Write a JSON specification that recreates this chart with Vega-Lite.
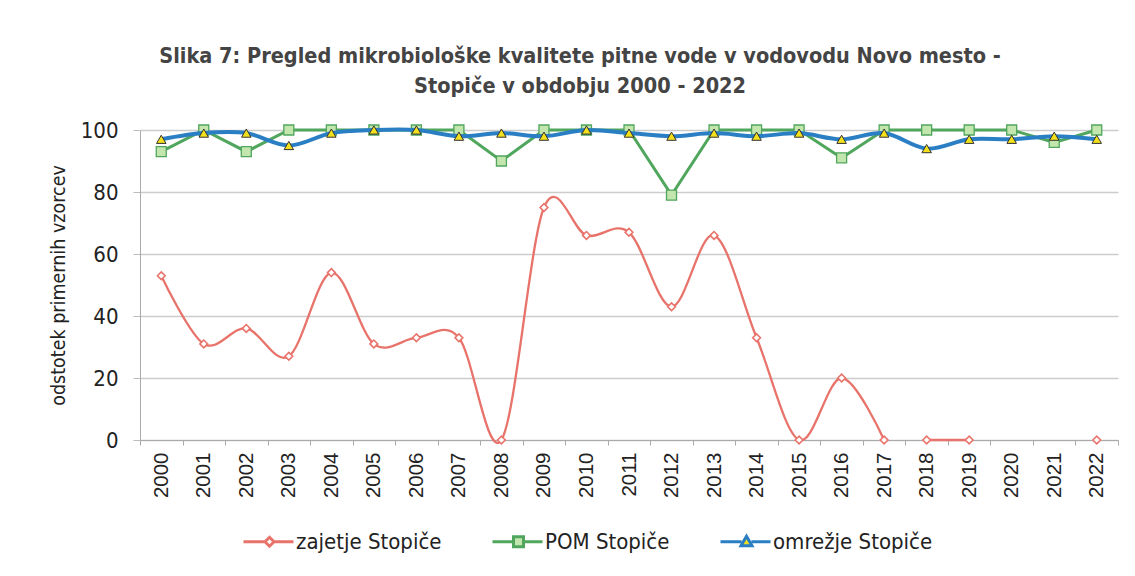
{
  "$schema": "https://vega.github.io/schema/vega-lite/v6.json",
  "width": 978,
  "height": 310,
  "autosize": "none",
  "padding": {"left": 140, "top": 130, "right": 17, "bottom": 136},
  "background": "white",
  "title": {
    "text": ["Slika 7: Pregled mikrobiološke kvalitete pitne vode v vodovodu Novo mesto -", "Stopiče v obdobju 2000 - 2022"],
    "font": "'DejaVu Sans Condensed', 'Liberation Sans', sans-serif",
    "fontSize": 21.5,
    "fontWeight": "bold",
    "color": "#444444",
    "anchor": "middle",
    "dx": -49,
    "offset": 22,
    "lineHeight": 30
  },
  "data": {
    "values": [
      {"leto": "2000", "serija": "zajetje Stopiče", "vrednost": 53, "odsek": 1},
      {"leto": "2001", "serija": "zajetje Stopiče", "vrednost": 31, "odsek": 1},
      {"leto": "2002", "serija": "zajetje Stopiče", "vrednost": 36, "odsek": 1},
      {"leto": "2003", "serija": "zajetje Stopiče", "vrednost": 27, "odsek": 1},
      {"leto": "2004", "serija": "zajetje Stopiče", "vrednost": 54, "odsek": 1},
      {"leto": "2005", "serija": "zajetje Stopiče", "vrednost": 31, "odsek": 1},
      {"leto": "2006", "serija": "zajetje Stopiče", "vrednost": 33, "odsek": 1},
      {"leto": "2007", "serija": "zajetje Stopiče", "vrednost": 33, "odsek": 1},
      {"leto": "2008", "serija": "zajetje Stopiče", "vrednost": 0, "odsek": 1},
      {"leto": "2009", "serija": "zajetje Stopiče", "vrednost": 75, "odsek": 1},
      {"leto": "2010", "serija": "zajetje Stopiče", "vrednost": 66, "odsek": 1},
      {"leto": "2011", "serija": "zajetje Stopiče", "vrednost": 67, "odsek": 1},
      {"leto": "2012", "serija": "zajetje Stopiče", "vrednost": 43, "odsek": 1},
      {"leto": "2013", "serija": "zajetje Stopiče", "vrednost": 66, "odsek": 1},
      {"leto": "2014", "serija": "zajetje Stopiče", "vrednost": 33, "odsek": 1},
      {"leto": "2015", "serija": "zajetje Stopiče", "vrednost": 0, "odsek": 1},
      {"leto": "2016", "serija": "zajetje Stopiče", "vrednost": 20, "odsek": 1},
      {"leto": "2017", "serija": "zajetje Stopiče", "vrednost": 0, "odsek": 1},
      {"leto": "2018", "serija": "zajetje Stopiče", "vrednost": 0, "odsek": 2},
      {"leto": "2019", "serija": "zajetje Stopiče", "vrednost": 0, "odsek": 2},
      {"leto": "2022", "serija": "zajetje Stopiče", "vrednost": 0, "odsek": 3},
      {"leto": "2000", "serija": "POM Stopiče", "vrednost": 93, "odsek": 1},
      {"leto": "2001", "serija": "POM Stopiče", "vrednost": 100, "odsek": 1},
      {"leto": "2002", "serija": "POM Stopiče", "vrednost": 93, "odsek": 1},
      {"leto": "2003", "serija": "POM Stopiče", "vrednost": 100, "odsek": 1},
      {"leto": "2004", "serija": "POM Stopiče", "vrednost": 100, "odsek": 1},
      {"leto": "2005", "serija": "POM Stopiče", "vrednost": 100, "odsek": 1},
      {"leto": "2006", "serija": "POM Stopiče", "vrednost": 100, "odsek": 1},
      {"leto": "2007", "serija": "POM Stopiče", "vrednost": 100, "odsek": 1},
      {"leto": "2008", "serija": "POM Stopiče", "vrednost": 90, "odsek": 1},
      {"leto": "2009", "serija": "POM Stopiče", "vrednost": 100, "odsek": 1},
      {"leto": "2010", "serija": "POM Stopiče", "vrednost": 100, "odsek": 1},
      {"leto": "2011", "serija": "POM Stopiče", "vrednost": 100, "odsek": 1},
      {"leto": "2012", "serija": "POM Stopiče", "vrednost": 79, "odsek": 1},
      {"leto": "2013", "serija": "POM Stopiče", "vrednost": 100, "odsek": 1},
      {"leto": "2014", "serija": "POM Stopiče", "vrednost": 100, "odsek": 1},
      {"leto": "2015", "serija": "POM Stopiče", "vrednost": 100, "odsek": 1},
      {"leto": "2016", "serija": "POM Stopiče", "vrednost": 91, "odsek": 1},
      {"leto": "2017", "serija": "POM Stopiče", "vrednost": 100, "odsek": 1},
      {"leto": "2018", "serija": "POM Stopiče", "vrednost": 100, "odsek": 1},
      {"leto": "2019", "serija": "POM Stopiče", "vrednost": 100, "odsek": 1},
      {"leto": "2020", "serija": "POM Stopiče", "vrednost": 100, "odsek": 1},
      {"leto": "2021", "serija": "POM Stopiče", "vrednost": 96, "odsek": 1},
      {"leto": "2022", "serija": "POM Stopiče", "vrednost": 100, "odsek": 1},
      {"leto": "2000", "serija": "omrežje Stopiče", "vrednost": 97, "odsek": 1},
      {"leto": "2001", "serija": "omrežje Stopiče", "vrednost": 99, "odsek": 1},
      {"leto": "2002", "serija": "omrežje Stopiče", "vrednost": 99, "odsek": 1},
      {"leto": "2003", "serija": "omrežje Stopiče", "vrednost": 95, "odsek": 1},
      {"leto": "2004", "serija": "omrežje Stopiče", "vrednost": 99, "odsek": 1},
      {"leto": "2005", "serija": "omrežje Stopiče", "vrednost": 100, "odsek": 1},
      {"leto": "2006", "serija": "omrežje Stopiče", "vrednost": 100, "odsek": 1},
      {"leto": "2007", "serija": "omrežje Stopiče", "vrednost": 98, "odsek": 1},
      {"leto": "2008", "serija": "omrežje Stopiče", "vrednost": 99, "odsek": 1},
      {"leto": "2009", "serija": "omrežje Stopiče", "vrednost": 98, "odsek": 1},
      {"leto": "2010", "serija": "omrežje Stopiče", "vrednost": 100, "odsek": 1},
      {"leto": "2011", "serija": "omrežje Stopiče", "vrednost": 99, "odsek": 1},
      {"leto": "2012", "serija": "omrežje Stopiče", "vrednost": 98, "odsek": 1},
      {"leto": "2013", "serija": "omrežje Stopiče", "vrednost": 99, "odsek": 1},
      {"leto": "2014", "serija": "omrežje Stopiče", "vrednost": 98, "odsek": 1},
      {"leto": "2015", "serija": "omrežje Stopiče", "vrednost": 99, "odsek": 1},
      {"leto": "2016", "serija": "omrežje Stopiče", "vrednost": 97, "odsek": 1},
      {"leto": "2017", "serija": "omrežje Stopiče", "vrednost": 99, "odsek": 1},
      {"leto": "2018", "serija": "omrežje Stopiče", "vrednost": 94, "odsek": 1},
      {"leto": "2019", "serija": "omrežje Stopiče", "vrednost": 97, "odsek": 1},
      {"leto": "2020", "serija": "omrežje Stopiče", "vrednost": 97, "odsek": 1},
      {"leto": "2021", "serija": "omrežje Stopiče", "vrednost": 98, "odsek": 1},
      {"leto": "2022", "serija": "omrežje Stopiče", "vrednost": 97, "odsek": 1}
    ]
  },
  "encoding": {
    "x": {
      "field": "leto",
      "type": "ordinal",
      "bandPosition": 0.5,
      "scale": {"type": "band", "paddingInner": 0, "paddingOuter": 0},
      "axis": {
        "title": null,
        "labelAngle": -90,
        "labelFont": "Liberation Sans",
        "labelFontSize": 20.5,
        "labelColor": "#222222",
        "labelPadding": 7,
        "tickBand": "extent",
        "tickSize": 5,
        "tickColor": "#aaaaaa",
        "domainColor": "#aaaaaa",
        "grid": false
      }
    },
    "y": {
      "field": "vrednost",
      "type": "quantitative",
      "scale": {"domain": [0, 100], "nice": false},
      "axis": {
        "title": "odstotek primernih vzorcev",
        "titleFont": "'DejaVu Sans Condensed', 'Liberation Sans', sans-serif",
        "titleFontSize": 19.5,
        "titleFontWeight": "normal",
        "titleColor": "#222222",
        "titlePadding": 12,
        "values": [0, 20, 40, 60, 80, 100],
        "labelFont": "'DejaVu Sans Condensed', 'Liberation Sans', sans-serif",
        "labelFontSize": 22,
        "labelColor": "#222222",
        "labelPadding": 15,
        "tickSize": 7,
        "tickColor": "#bbbbbb",
        "domainColor": "#aaaaaa",
        "grid": true,
        "gridColor": "#cccccc",
        "gridWidth": 1.5
      }
    }
  },
  "layer": [
    {
      "transform": [{"filter": "datum.serija === 'zajetje Stopiče'"}],
      "mark": {"type": "line", "interpolate": "cardinal", "strokeWidth": 2.3},
      "encoding": {
        "detail": {"field": "odsek", "type": "nominal"},
        "stroke": {
          "field": "serija",
          "type": "nominal",
          "scale": {
            "domain": ["zajetje Stopiče", "POM Stopiče", "omrežje Stopiče"],
            "range": ["#E8736B", "#4FA65C", "#2A7FC4"]
          },
          "legend": {
            "title": null,
            "orient": "none",
            "direction": "horizontal",
            "legendX": 102,
            "legendY": 400,
            "labelFont": "'DejaVu Sans Condensed', 'Liberation Sans', sans-serif",
            "labelFontSize": 22,
            "labelColor": "#222222",
            "symbolSize": 400,
            "labelOffset": 31,
            "columnPadding": 44,
            "labelLimit": 300,
            "encode": {
              "symbols": {
                "update": {
                  "shape": {"signal": "datum.value === 'zajetje Stopiče' ? 'M-1,0H1.15M2.05,0H4M1.6,-0.45L2.05,0L1.6,0.45L1.15,0Z' : datum.value === 'POM Stopiče' ? 'M-1,0H1.1M2.1,0H4M1.1,-0.5H2.1V0.5H1.1Z' : 'M-1,0H1.1M2.1,0H4M1.6,-0.55L2.15,0.4L1.05,0.4Z'"},
                  "fill": {"signal": "datum.value === 'zajetje Stopiče' ? '#ffffff' : datum.value === 'POM Stopiče' ? '#C3E6AE' : '#F2E01C'"},
                  "strokeWidth": {"value": 3},
                  "opacity": {"value": 1}
                }
              }
            }
          }
        }
      }
    },
    {
      "transform": [{"filter": "datum.serija === 'zajetje Stopiče'"}],
      "mark": {"type": "point", "shape": "diamond", "filled": true, "fill": "#ffffff", "stroke": "#E8736B", "strokeWidth": 1.6, "size": 60, "opacity": 1}
    },
    {
      "transform": [{"filter": "datum.serija === 'POM Stopiče'"}],
      "mark": {"type": "line", "interpolate": "linear", "strokeWidth": 3},
      "encoding": {
        "stroke": {"field": "serija", "type": "nominal"}
      }
    },
    {
      "transform": [{"filter": "datum.serija === 'POM Stopiče'"}],
      "mark": {"type": "point", "shape": "square", "filled": true, "fill": "#C3E6AE", "stroke": "#4FA65C", "strokeWidth": 1.3, "size": 100, "opacity": 1}
    },
    {
      "transform": [{"filter": "datum.serija === 'omrežje Stopiče'"}],
      "mark": {"type": "line", "interpolate": "cardinal", "strokeWidth": 4},
      "encoding": {
        "stroke": {"field": "serija", "type": "nominal"}
      }
    },
    {
      "transform": [{"filter": "datum.serija === 'omrežje Stopiče'"}],
      "mark": {"type": "point", "shape": "triangle-up", "filled": true, "fill": "#F2E01C", "stroke": "#333333", "strokeWidth": 1, "size": 90, "opacity": 1}
    }
  ],
  "config": {
    "view": {"stroke": null}
  }
}
